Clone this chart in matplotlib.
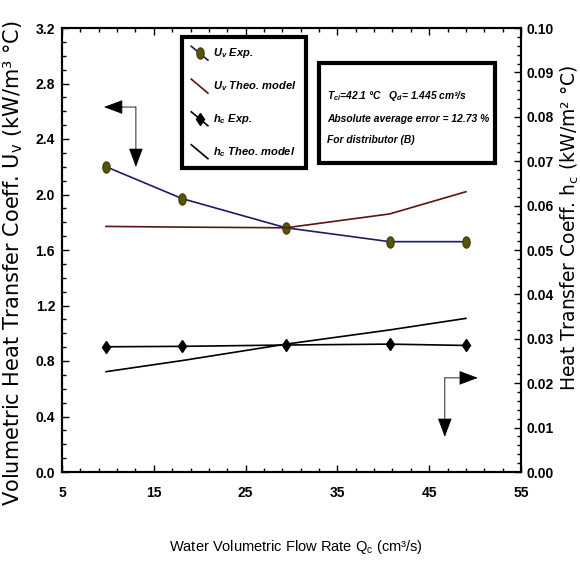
import numpy as np
import matplotlib
matplotlib.use('Agg')
import matplotlib.pyplot as plt
from matplotlib.lines import Line2D
from matplotlib.path import Path
from matplotlib.patches import Rectangle
from matplotlib.transforms import Affine2D
from matplotlib.legend_handler import HandlerLine2D
from matplotlib.ticker import FixedLocator, MultipleLocator, FormatStrFormatter

# data
qc = [9.8, 18.1, 29.4, 40.7, 49.0]
uv_exp = [2.20, 1.97, 1.76, 1.66, 1.66]
uv_theo = [1.77, 1.765, 1.76, 1.86, 2.02]
hc_exp = [0.0282, 0.0283, 0.0286, 0.0288, 0.0285]
hc_theo = [0.0226, 0.0251, 0.0288, 0.0320, 0.0346]

x_ticks = [5, 15, 25, 35, 45, 55]
uv_ticks = [0.0, 0.4, 0.8, 1.2, 1.6, 2.0, 2.4, 2.8, 3.2]
hc_ticks = [0.00, 0.01, 0.02, 0.03, 0.04, 0.05, 0.06, 0.07, 0.08, 0.09, 0.10]

ARIAL = 'Liberation Sans'
tick_font = dict(family=ARIAL, weight='bold', size=10)
note_font = dict(family=ARIAL, weight='bold', style='italic', size=7.4)


class SlantHandler(HandlerLine2D):
    # legend keys drawn as a short falling diagonal, like the original
    def create_artists(self, legend, orig_handle, xdescent, ydescent,
                       width, height, fontsize, trans):
        xs = [-xdescent, -xdescent + width]
        ys = [height * 1.3 - ydescent, -0.5 * height - ydescent]
        line = Line2D(xs, ys)
        self.update_prop(line, orig_handle, legend)
        line.set_marker('None')
        mark = Line2D([np.mean(xs)], [np.mean(ys)])
        self.update_prop(mark, orig_handle, legend)
        mark.set_linestyle('None')
        line.set_transform(trans)
        mark.set_transform(trans)
        return [line, mark]


oval = Path.unit_circle().transformed(Affine2D().scale(0.65, 1.0))

fig = plt.figure(figsize=(5.8, 5.66), dpi=100)
ax = fig.add_axes([62 / 580, 94 / 566, 459 / 580, 444 / 566])
ax2 = ax.twinx()

l1, = ax.plot(qc, uv_exp, color='#1c1c66', lw=1.2, marker=oval, ms=8,
              mfc='#555511', mec='#444400', label=r'$\mathregular{U_v}$ Exp.')
l2, = ax.plot(qc, uv_theo, color='#5c1414', lw=1.2,
              label=r'$\mathregular{U_v}$ Theo. model')
l3, = ax2.plot(qc, hc_exp, color='black', lw=1.2, marker='d', ms=6,
               label=r'$\mathregular{h_c}$ Exp.')
l4, = ax2.plot(qc, hc_theo, color='black', lw=1.2,
               label=r'$\mathregular{h_c}$ Theo. model')

ax.set_xlim(5, 55)
ax.set_ylim(0, 3.2)
ax2.set_ylim(0, 0.10)

ax.set_xticks(x_ticks)
ax.xaxis.set_minor_locator(FixedLocator(np.arange(5, 56, 2)))
ax.set_yticks(uv_ticks)
ax.yaxis.set_minor_locator(MultipleLocator(0.1))
ax.yaxis.set_major_formatter(FormatStrFormatter('%.1f'))
ax2.set_yticks(hc_ticks)
ax2.yaxis.set_minor_locator(MultipleLocator(0.002))
ax2.yaxis.set_major_formatter(FormatStrFormatter('%.2f'))

ax.tick_params(which='both', direction='in', top=True, right=False, width=1)
ax.tick_params(which='major', length=5)
ax.tick_params(which='minor', length=3)
ax.tick_params(axis='x', pad=10)
ax.tick_params(axis='y', pad=5)
ax2.tick_params(which='both', direction='in', width=1)
ax2.tick_params(which='major', length=5, pad=4)
ax2.tick_params(which='minor', length=3)
for lab in ax.get_xticklabels() + ax.get_yticklabels() + ax2.get_yticklabels():
    lab.set(**tick_font)

for a in (ax, ax2):
    for s in a.spines.values():
        s.set_linewidth(1.5)

ax.set_xlabel(r'Water Volumetric Flow Rate $\mathregular{Q_c}$ (cm³/s)',
              family=ARIAL, size=10.5)
ax.xaxis.set_label_coords(0.51, -0.148)
ax.set_ylabel(r'Volumetric Heat Transfer Coeff. $\mathregular{U_v}$ (kW/m³ °C)',
              family='DejaVu Sans', size=15)
ax.yaxis.set_label_coords(-0.081, 0.47)
ax2.set_ylabel(r'Heat Transfer Coeff. $\mathregular{h_c}$ (kW/m² °C)',
               family='DejaVu Sans', size=13.5, rotation=90)
ax2.yaxis.set_label_coords(1.083, 0.55)

leg = ax2.legend(handles=[l1, l2, l3, l4], loc='upper left',
                 bbox_to_anchor=(0.261, 0.98), borderaxespad=0,
                 prop=dict(family=ARIAL, weight='bold', style='italic', size=8),
                 handler_map={Line2D: SlantHandler()},
                 fancybox=False, framealpha=1, edgecolor='black',
                 handlelength=1.5, handletextpad=0.5, labelspacing=1.7,
                 borderpad=0.85)
leg.get_frame().set_linewidth(3)

# note box
ax2.add_patch(Rectangle((0.560, 0.696), 0.383, 0.225, transform=ax.transAxes,
                        fc='white', ec='black', lw=3, zorder=5))
ax2.text(0.577, 0.800,
         r'$\mathregular{T_{ci}}$=42.1 °C   $\mathregular{Q_d}$= 1.445 cm³/s' '\n'
         'Absolute average error = 12.73 %\n'
         'For distributor (B)',
         transform=ax.transAxes, ha='left', va='center', linespacing=2.4,
         zorder=6, **note_font)

# direction arrows (left -> Uv axis, right -> hc axis)
arrow = dict(arrowstyle='-|>,head_length=1.2,head_width=0.45', color='black',
             lw=0.6, shrinkA=0, shrinkB=0)
ax.annotate('', xy=(0.0915, 0.822), xytext=(0.161, 0.822),
            xycoords='axes fraction', arrowprops=arrow)
ax.annotate('', xy=(0.161, 0.687), xytext=(0.161, 0.822),
            xycoords='axes fraction', arrowprops=arrow)
ax.annotate('', xy=(0.906, 0.212), xytext=(0.834, 0.212),
            xycoords='axes fraction', arrowprops=arrow)
ax.annotate('', xy=(0.834, 0.079), xytext=(0.834, 0.212),
            xycoords='axes fraction', arrowprops=arrow)

fig.savefig('out.png', dpi=100)
